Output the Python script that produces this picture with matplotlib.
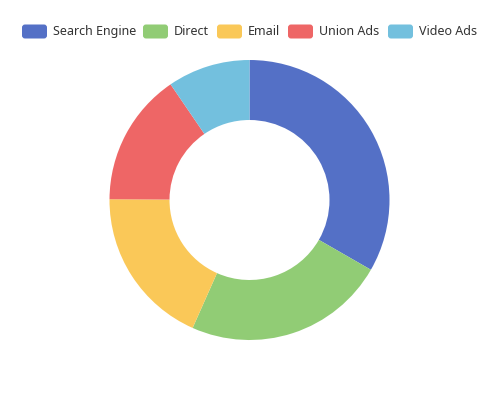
import matplotlib
matplotlib.use("Agg")
import matplotlib.pyplot as plt
from matplotlib.patches import FancyBboxPatch

categories = ["Search Engine", "Direct", "Email", "Union Ads", "Video Ads"]
values = [1048, 735, 580, 484, 300]
colors = ["#5470c6", "#91cc75", "#fac858", "#ee6666", "#73c0de"]

W, H = 499, 400
fig = plt.figure(figsize=(W / 100, H / 100), dpi=100)
ax = fig.add_axes([0, 0, 1, 1])
ax.set_xlim(0, W)
ax.set_ylim(0, H)
ax.set_aspect("equal")
ax.axis("off")

ax.pie(values, colors=colors, center=(249.5, H - 200), radius=140,
       startangle=90, counterclock=False,
       wedgeprops=dict(width=60, linewidth=0))
ax.set_xlim(0, W)
ax.set_ylim(0, H)

# legend
box_x = [22, 143, 217, 288, 388]
ly = H - 31.5
for x, name, c in zip(box_x, categories, colors):
    ax.add_patch(FancyBboxPatch((x + 3, ly - 4), 19, 8,
                                boxstyle="round,pad=3", fc=c, ec="none"))
    ax.text(x + 31, ly, name, fontsize=9, color="#333333",
            va="center", ha="left", family="Noto Sans")

fig.savefig("out.png", dpi=100)
